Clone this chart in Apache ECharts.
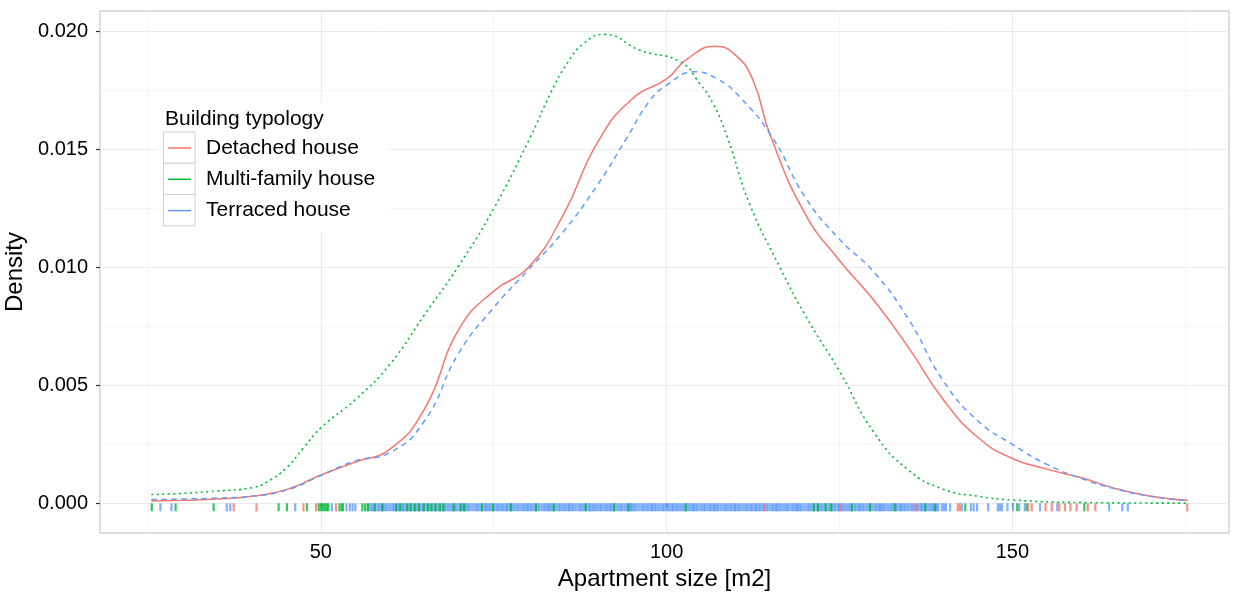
<!DOCTYPE html>
<html>
<head>
<meta charset="utf-8">
<script src="https://cdn.jsdelivr.net/npm/echarts@6/dist/echarts.min.js"></script>
<style>
html,body{margin:0;padding:0;background:#fff;}
#chart{width:1240px;height:592px;}
</style>
</head>
<body>
<div id="chart"></div>
<script>
// ---- Density curves (x = apartment size, y = density) ----
const detachedX = [25.5,30,35,40,45,50,55,60,65,70,75,80,85,90,95,100,103,107,110,112.5,115,120,125,130,135,140,145,150,155,160,165,170,175.4];
const detachedY = [0.00010,0.00013,0.00018,0.00030,0.00058,0.00120,0.00175,0.00230,0.00400,0.00740,0.00900,0.01000,0.01220,0.01530,0.01715,0.01800,0.01885,0.01938,0.01900,0.01794,0.01560,0.01230,0.01030,0.00860,0.00660,0.00440,0.00280,0.00190,0.00145,0.00108,0.00062,0.00030,0.00012];

const multiX = [25.5,30,35,40,42.2,45,47.5,50,55,60,65,70,75,80.3,83.2,85.6,88,91,96.2,102,104.8,106.7,108.7,112,116.4,120,125,130,135,140,145,150,160,175.4];
const multiY = [0.00037,0.00042,0.00052,0.00066,0.00090,0.00150,0.00235,0.00320,0.00440,0.00590,0.00800,0.01010,0.01250,0.01553,0.01738,0.01865,0.01950,0.01989,0.01921,0.01872,0.01780,0.01696,0.01560,0.01270,0.01000,0.00800,0.00560,0.00300,0.00140,0.00060,0.00030,0.00014,0.00003,0.000005];

const terracedX = [25.5,30,35,40,45,50,55,60,65,70,75,80,85,90,94.2,97.6,100,104,107.3,110.6,115.4,120,125,130,135,140,145,150,155,160,165,170,175.4];
const terracedY = [0.00016,0.00018,0.00022,0.00030,0.00056,0.00118,0.00180,0.00215,0.00350,0.00640,0.00830,0.00990,0.01150,0.01350,0.01547,0.01709,0.01773,0.01830,0.01800,0.01723,0.01547,0.01300,0.01120,0.00980,0.00780,0.00520,0.00350,0.00250,0.00165,0.00105,0.00060,0.00030,0.00012];

// ---- Rug observations ----
const detachedRug = [37.4,40.7,47.5,49.3,52.2,114.1,125.2,136.0,142.1,142.4,152.3,152.8,154.8,155.7,156.8,157.6,158.4,159.3,160.9,162.0,175.3];

const multiRug = [25.56,29.0,34.5,43.9,45.1,48.0,49.7,50.0,50.3,50.6,50.9,51.1,52.7,53.0,53.2,56.0,56.4,56.8,57.8,58.9,60.9,61.5,62.5,63.0,63.6,64.2,64.9,65.5,66.0,66.6,67.2,67.7,69.2,70.2,70.7,73.3,74.9,77.5,81.1,83.7,88.3,92.4,94.5,102.8,121.3,121.9,123.0,123.8,126.8,129.4,133.0,137.4,138.8,143.2,150.7,152.1,160.4];

const terracedRug = [26.8,28.4,36.4,36.9,46.3,51.6,53.7,54.2,54.6,55.0,56.8,
57.1,57.4,57.6,57.9,58.2,58.4,58.7,58.9,59.0,59.3,59.5,59.8,
60.1,60.4,60.6,60.9,61.2,61.4,61.7,61.9,62.0,62.3,62.5,62.8,
63.1,63.4,63.6,63.9,64.2,64.4,64.7,64.9,65.0,65.3,65.5,65.8,
66.1,66.4,66.6,66.9,67.2,67.4,67.7,67.9,68.0,68.3,68.5,68.8,
69.1,69.4,69.6,69.9,70.2,70.4,70.7,70.9,71.0,71.3,71.5,71.8,
72.1,72.4,72.6,72.9,73.2,73.4,73.7,73.9,74.0,74.3,74.5,74.8,
75.1,75.4,75.6,75.9,76.2,76.4,76.7,76.9,77.0,77.3,77.5,77.8,
78.1,78.4,78.6,78.9,79.2,79.4,79.7,79.9,80.0,80.3,80.5,80.8,
81.1,81.4,81.6,81.9,82.2,82.4,82.7,82.9,83.0,83.3,83.5,83.8,
84.1,84.4,84.6,84.9,85.2,85.4,85.7,85.9,86.0,86.3,86.5,86.8,
87.1,87.4,87.6,87.9,88.2,88.4,88.7,88.9,89.0,89.3,89.5,89.8,
90.1,90.4,90.6,90.9,91.2,91.4,91.7,91.9,92.0,92.3,92.5,92.8,
93.1,93.4,93.6,93.9,94.2,94.4,94.7,94.9,95.0,95.3,95.5,95.8,
96.1,96.4,96.6,96.9,97.2,97.4,97.7,97.9,98.0,98.3,98.5,98.8,
99.1,99.4,99.6,99.9,100.2,100.4,100.7,100.9,101.0,101.3,101.5,101.8,
102.1,102.4,102.6,102.9,103.2,103.4,103.7,103.9,104.0,104.3,104.5,104.8,
105.1,105.4,105.6,105.9,106.2,106.4,106.7,106.9,107.0,107.3,107.5,107.8,
108.1,108.4,108.6,108.9,109.2,109.4,109.7,109.9,110.0,110.3,110.5,110.8,
111.1,111.4,111.6,111.9,112.2,112.4,112.7,112.9,113.0,113.3,113.5,113.8,
114.1,114.4,114.6,114.9,115.2,115.4,115.7,115.9,116.0,116.3,116.5,116.8,
117.1,117.4,117.6,117.9,118.2,118.4,118.7,118.9,119.0,119.3,119.5,119.8,
120.1,120.4,120.6,120.9,121.2,121.4,121.7,121.9,122.0,122.3,122.5,122.8,
123.1,123.4,123.6,123.9,124.2,124.4,124.7,124.9,125.0,125.3,125.5,125.8,
126.1,126.4,126.6,126.9,127.2,127.4,127.7,127.9,128.0,128.3,128.5,128.8,
129.1,129.4,129.6,129.9,130.2,130.4,130.7,130.9,131.0,131.3,131.5,131.8,
132.1,132.4,132.6,132.9,133.2,133.4,133.7,133.9,134.0,134.3,134.5,134.8,
135.1,135.4,135.6,135.9,136.2,136.4,136.7,136.9,137.0,137.3,137.5,137.8,
138.1,138.4,138.6,138.9,139.1,139.3,
139.8,140.1,140.4,141.0,142.7,144.0,144.4,144.9,146.5,147.9,148.2,148.5,149.3,150.1,151.0,151.8,154.0,156.5,164.0,165.9,166.7];

const xTicks = [50, 100, 150];
const yTicks = [0, 0.005, 0.010, 0.015, 0.020];
const seriesNames = ['Detached house', 'Multi-family house', 'Terraced house'];
const colors = ['#F8766D', '#00BA38', '#619CFF'];

const FONT = 'Liberation Sans, Arial, Helvetica, sans-serif';

function pairs(xs, ys) { return xs.map((x, i) => [x, ys[i]]); }
function rug(xs) { return xs.map(x => [x, 0]); }

const chart = echarts.init(document.getElementById('chart'), null, {renderer: 'canvas'});

const lineBase = {type: 'line', showSymbol: false, smooth: 0.5, silent: true, z: 3};
const rugBase = {type: 'scatter', symbol: 'rect', symbolSize: [2.2, 8], symbolOffset: [0, 4], silent: true, z: 2};

const option = {
  animation: false,
  backgroundColor: '#ffffff',
  grid: {left: 100, top: 11, right: 11, bottom: 59, show: true, borderColor: '#BBBBBB', borderWidth: 1, containLabel: false, outerBoundsMode: 'none'},
  xAxis: {
    type: 'value', min: 18.07, max: 181.33, splitNumber: 3,
    name: 'Apartment size [m2]', nameLocation: 'middle', nameGap: 32,
    nameTextStyle: {fontFamily: FONT, fontSize: 24, color: '#000'},
    axisLine: {show: false},
    axisTick: {show: true, length: 4, lineStyle: {color: '#333', width: 1.2}, customValues: xTicks},
    axisLabel: {fontFamily: FONT, fontSize: 20, color: '#000', margin: 9, customValues: xTicks},
    splitLine: {show: true, lineStyle: {color: '#EBEBEB', width: 1}},
    minorTick: {show: false, splitNumber: 2},
    minorSplitLine: {show: true, lineStyle: {color: '#F5F5F5', width: 1}}
  },
  yAxis: {
    type: 'value', min: -0.00126, max: 0.02088, splitNumber: 4,
    name: 'Density', nameLocation: 'middle', nameGap: 59,
    nameTextStyle: {fontFamily: FONT, fontSize: 24, color: '#000'},
    axisLine: {show: false},
    axisTick: {show: true, length: 4, lineStyle: {color: '#333', width: 1.2}, customValues: yTicks},
    axisLabel: {fontFamily: FONT, fontSize: 20, color: '#000', margin: 12, customValues: yTicks,
      formatter: v => v.toFixed(3)},
    splitLine: {show: true, lineStyle: {color: '#EBEBEB', width: 1}},
    minorTick: {show: false, splitNumber: 2},
    minorSplitLine: {show: true, lineStyle: {color: '#F5F5F5', width: 1}}
  },
  series: [
    Object.assign({}, rugBase, {name: seriesNames[2] + ' rug', data: rug(terracedRug), itemStyle: {color: colors[2]}}),
    Object.assign({}, rugBase, {name: seriesNames[1] + ' rug', data: rug(multiRug), itemStyle: {color: colors[1]}}),
    Object.assign({}, rugBase, {name: seriesNames[0] + ' rug', data: rug(detachedRug), itemStyle: {color: colors[0]}}),
    Object.assign({}, lineBase, {name: seriesNames[0], data: pairs(detachedX, detachedY), lineStyle: {color: colors[0], width: 1.5, type: 'solid'}}),
    Object.assign({}, lineBase, {name: seriesNames[1], data: pairs(multiX, multiY), lineStyle: {color: colors[1], width: 1.6, type: [2, 3.5]}}),
    Object.assign({}, lineBase, {name: seriesNames[2], data: pairs(terracedX, terracedY), lineStyle: {color: colors[2], width: 1.5, type: [5.5, 4.5]}})
  ],
  graphic: [
    {type: 'rect', shape: {x: 157, y: 102, width: 232, height: 130}, style: {fill: '#fff'}, z: 10, silent: true},
    {type: 'text', style: {x: 165, y: 119, text: 'Building typology', font: '21px ' + FONT, fill: '#000', textVerticalAlign: 'middle'}, z: 11, silent: true}
  ]
};

seriesNames.forEach((nm, i) => {
  const y0 = 132 + i * 31.3;
  option.graphic.push({type: 'rect', shape: {x: 163.5, y: y0, width: 31.5, height: 31.3}, style: {fill: '#fff', stroke: '#D0D0D0', lineWidth: 1}, z: 11, silent: true});
  option.graphic.push({type: 'line', shape: {x1: 168, y1: y0 + 16, x2: 191, y2: y0 + 16}, style: {stroke: colors[i], lineWidth: 1.5}, z: 12, silent: true});
  option.graphic.push({type: 'text', style: {x: 206, y: y0 + 16, text: nm, font: '21px ' + FONT, fill: '#000', textVerticalAlign: 'middle'}, z: 12, silent: true});
});

chart.setOption(option);
</script>
</body>
</html>
